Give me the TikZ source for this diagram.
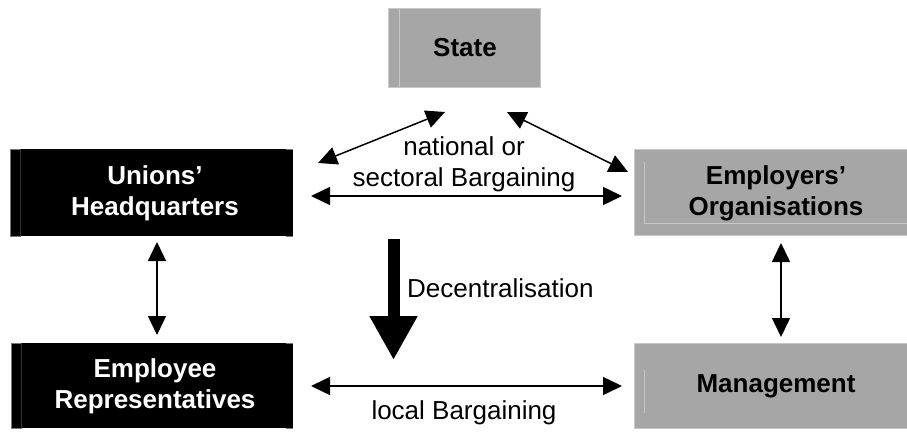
\documentclass[tikz,border=0pt]{standalone}
\usepackage{fontspec}
\setmainfont{Liberation Sans}
\usetikzlibrary{arrows.meta}
\definecolor{boxgray}{RGB}{166,166,166}
\definecolor{edgegray}{RGB}{200,200,200}
\definecolor{blackedge}{RGB}{120,120,120}
\definecolor{blackinner}{RGB}{50,50,50}
\tikzset{
  blackbox/.style={fill=black, inner sep=0pt, outer sep=0pt},
  graybox/.style={draw=edgegray, line width=0.6pt, fill=boxgray, inner sep=0pt, outer sep=0pt},
  whitetext/.style={text=white, align=center, font=\fontsize{26}{31}\selectfont\bfseries, inner sep=0pt},
  blacktext/.style={text=black, align=center, font=\fontsize{26}{31}\selectfont\bfseries, inner sep=0pt},
  plaintext/.style={text=black, align=center, font=\fontsize{26}{31}\selectfont, inner sep=0pt},
  link/.style={line width=1.5pt, {Triangle[length=19pt,width=18pt]}-{Triangle[length=19pt,width=18pt]}},
  bigarrow/.style={line width=12pt, -{Triangle[length=44pt,width=45pt]}},
  innerline/.style={draw=edgegray, line width=0.6pt},
  bedge/.style={draw=blackedge, line width=0.8pt},
  binner/.style={draw=blackinner, line width=0.8pt}
}
\begin{document}
\begin{tikzpicture}[x=1pt,y=-1pt]
\useasboundingbox (0,0) rectangle (907,431);
% boxes
\node[graybox, minimum width=152pt, minimum height=79pt] (S) at (464,47.5) {};
\node[blackbox, minimum width=283pt, minimum height=87pt] (U) at (151.5,192.5) {};
\node[graybox, minimum width=274pt, minimum height=86pt] (E) at (771,192) {};
\node[blackbox, minimum width=282pt, minimum height=85pt] (R) at (152,385.5) {};
\node[graybox, minimum width=274pt, minimum height=85pt] (M) at (771,385.5) {};
% edge and inner lines of the boxes
\draw[innerline] (399,8) -- (399,87);
\draw[innerline] (644,162) -- (644,223) -- (907,223);
\draw[innerline] (644,370) -- (644,413);
\foreach \b in {U,R}{
  \draw[bedge] ([xshift=10.5pt]\b.north west) -- (\b.north west) -- (\b.south west) -- ([xshift=10.5pt]\b.south west);
  \draw[bedge] ([xshift=-7pt]\b.north east) -- (\b.north east);
  \draw[bedge] ([xshift=-7pt]\b.south east) -- (\b.south east);
  \draw[binner] ([xshift=10.5pt]\b.north west) -- ([xshift=10.5pt]\b.south west);
}
% box texts
\node[blacktext] (St) at (465,48) {State};
\node[whitetext] (Ut) at (155,193) {Unions'\\Headquarters};
\node[blacktext] (Et) at (776,193) {Employers'\\Organisations};
\node[whitetext] (Rt) at (155,386) {Employee\\Representatives};
\node[blacktext] (Mt) at (776,386) {Management};
% labels
\node[plaintext] (nat) at (464,164) {national or\\sectoral Bargaining};
\node[plaintext, anchor=west] (dec) at (407,288) {Decentralisation};
\node[plaintext] (loc) at (464,413) {local Bargaining};
% connector end points
\coordinate (hl1) at (311,196);
\coordinate (hr1) at (622,196);
\coordinate (hl2) at (311,386);
\coordinate (hr2) at (622,386);
\coordinate (dl1) at (318,163);
\coordinate (dl2) at (445,112);
\coordinate (dr1) at (507,112);
\coordinate (dr2) at (628,172);
\coordinate (vl1) at (157,242);
\coordinate (vl2) at (157,335);
\coordinate (vr1) at (781,243);
\coordinate (vr2) at (781,337);
\coordinate (btop) at (393.5,239);
\coordinate (btip) at (393.5,360);
% connectors
\draw[link] (hl1) -- (hr1);
\draw[link] (hl2) -- (hr2);
\draw[link] (dl1) -- (dl2);
\draw[link] (dr1) -- (dr2);
\draw[link] (vl1) -- (vl2);
\draw[link] (vr1) -- (vr2);
\draw[bigarrow] (btop) -- (btip);
\end{tikzpicture}
\end{document}
